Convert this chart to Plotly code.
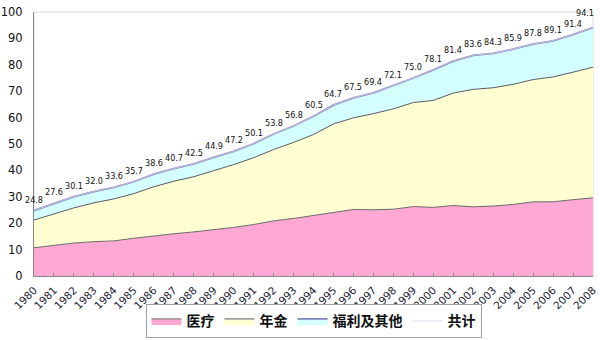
import plotly.graph_objects as go

years = list(range(1980, 2009))
medical = [10.7, 11.6, 12.5, 13.0, 13.3, 14.3, 15.2, 16.0, 16.7, 17.5, 18.4, 19.5, 20.9, 21.8, 23.0,
           24.1, 25.2, 25.1, 25.3, 26.3, 26.0, 26.7, 26.2, 26.5, 27.1, 28.1, 28.1, 28.9, 29.6]
pension = [10.5, 12.0, 13.3, 14.7, 15.9, 16.9, 18.6, 19.9, 20.9, 22.4, 23.8, 25.3, 27.0, 28.8, 30.6,
           33.5, 34.7, 36.4, 38.0, 39.4, 40.5, 42.6, 44.5, 44.8, 45.5, 46.3, 47.3, 48.3, 49.5]
total = [24.8, 27.6, 30.1, 32.0, 33.6, 35.7, 38.6, 40.7, 42.5, 44.9, 47.2, 50.1, 53.8, 56.8, 60.5,
         64.7, 67.5, 69.4, 72.1, 75.0, 78.1, 81.4, 83.6, 84.3, 85.9, 87.8, 89.1, 91.4, 94.1]
welfare = [round(t - m - p, 1) for t, m, p in zip(total, medical, pension)]
total_labels = [f"{v:.1f}" for v in total]
names = ["医疗", "年金", "福利及其他", "共计"]

fig = go.Figure()
fig.add_trace(go.Scatter(x=years, y=medical, name=names[0], stackgroup="s", mode="lines",
                         line=dict(color="#6a6a6a", width=1), fillcolor="#FFA8D3"))
fig.add_trace(go.Scatter(x=years, y=pension, name=names[1], stackgroup="s", mode="lines",
                         line=dict(color="#5a5a6a", width=1), fillcolor="#FFFFD2"))
fig.add_trace(go.Scatter(x=years, y=welfare, name=names[2], stackgroup="s", mode="lines",
                         line=dict(color="#8080BC", width=1.8), fillcolor="#D4FFFF"))
fig.add_trace(go.Scatter(x=years, y=total, name=names[3], mode="lines",
                         line=dict(color="#D0D0EC", width=0.8)))

n = len(years)
for i, (x, y, t) in enumerate(zip(years, total, total_labels)):
    last = i == n - 1
    fig.add_annotation(x=x, y=y, text=t, showarrow=False, yshift=15 if last else 11,
                       xanchor="right" if last else "center", xshift=3 if last else 0,
                       font=dict(family="DejaVu Sans Condensed, Liberation Sans Narrow", size=9, color="#111"))

fig.add_shape(type="rect", xref="paper", yref="paper", x0=0, x1=1, y0=0, y1=1,
              line=dict(color="#d8d8d8", width=1), layer="below")

fig.update_layout(
    width=600, height=340,
    margin=dict(l=34, r=7, t=12, b=64, autoexpand=False),
    paper_bgcolor="white", plot_bgcolor="white",
    font=dict(family="DejaVu Sans", color="#111"),
    showlegend=True,
    legend=dict(orientation="h", x=0.5, xanchor="center", yref="container", y=0.005, yanchor="bottom",
                bordercolor="#a0a0a0", borderwidth=1,
                font=dict(family="Noto Sans CJK SC", size=14, color="#111", weight="bold"),
                traceorder="normal", tracegroupgap=0),
    xaxis=dict(range=[1980, 2008], tickmode="array", tickvals=years,
               ticktext=[str(y) for y in years], tickangle=-45,
               ticks="inside", ticklen=3, tickcolor="#888",
               showline=True, linecolor="#888", linewidth=1,
               showgrid=False, zeroline=False, ticklabelstandoff=3,
               tickfont=dict(family="DejaVu Sans", size=10.5, color="#223")),
    yaxis=dict(range=[0, 100], dtick=10, showgrid=False, zeroline=False,
               showline=True, linecolor="#888", linewidth=1,
               ticks="", ticklabelstandoff=8,
               tickfont=dict(family="DejaVu Sans", size=11.5, color="#111")),
)

fig.write_html("out.html")
